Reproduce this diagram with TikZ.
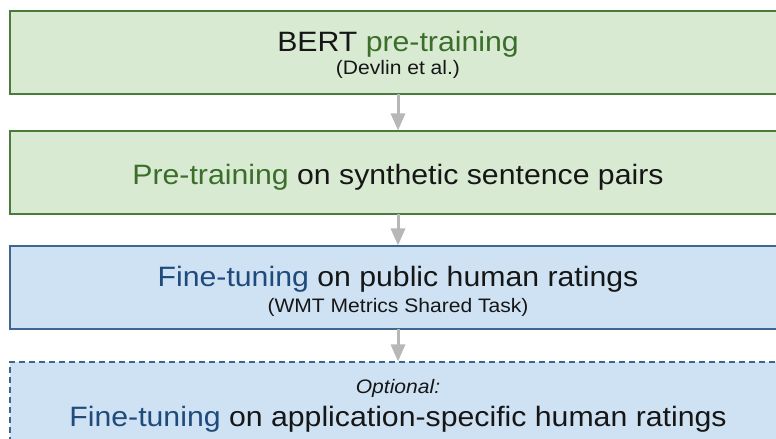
\documentclass[tikz,border=0pt]{standalone}
\usepackage{fontspec}
\setmainfont{Liberation Sans}[FakeStretch=1.08]
\usetikzlibrary{arrows.meta}

\definecolor{gfill}{HTML}{D9EAD3}
\definecolor{gline}{HTML}{4A7A3C}
\definecolor{gtext}{HTML}{3A6E2A}
\definecolor{bfill}{HTML}{CFE2F3}
\definecolor{bline}{HTML}{3D6690}
\definecolor{btext}{HTML}{1F4A7C}
\definecolor{arrowgray}{HTML}{B7B7B7}
\definecolor{ink}{HTML}{161616}

\newcommand{\bigtxt}{\fontsize{28bp}{32bp}\selectfont}
\newcommand{\smalltxt}{\fontsize{19.5bp}{23bp}\selectfont}

\tikzset{
  stage/.style={rectangle, minimum width=776bp, minimum height=83bp,
    line width=1.5bp, inner sep=0pt, outer sep=0pt},
  greenstage/.style={stage, fill=gfill, draw=gline},
  bluestage/.style={stage, fill=bfill, draw=bline},
  optstage/.style={stage, fill=bfill, draw=bline, dash pattern=on 6bp off 4bp},
  title/.style={anchor=base, inner sep=0pt, text=ink, font=\bigtxt},
  note/.style={anchor=base, inner sep=0pt, text=ink, font=\smalltxt},
  flow/.style={draw=arrowgray, line width=3bp,
    -{Triangle[width=14bp,length=17bp]}, shorten >=0.5bp}
}

\begin{document}
\begin{tikzpicture}[x=1bp, y=-1bp]
  \useasboundingbox (0,0) rectangle (776,439);
  \clip (0,0) rectangle (776,439);

  % stages
  \node[greenstage] (s1) at (398,52.75) {};
  \node[greenstage] (s2) at (398,172.5) {};
  \node[bluestage]  (s3) at (398,287.5) {};
  \node[optstage]   (s4) at (398,403.5) {};

  % stage texts
  \node[title] (t1) at (398,51.7) {BERT \textcolor{gtext}{pre-training}};
  \node[note]  (n1) at (398,74.7) {(Devlin et al.)};
  \node[title] (t2) at (398,185) {\textcolor{gtext}{Pre-training} on synthetic sentence pairs};
  \node[title] (t3) at (398,286.7) {\textcolor{btext}{Fine-tuning} on public human ratings};
  \node[note]  (n3) at (398,313) {(WMT Metrics Shared Task)};
  \node[note]  (n4) at (398,393) {\itshape Optional:};
  \node[title] (t4) at (398,426.7) {\textcolor{btext}{Fine-tuning} on application-specific human ratings};

  % connectors
  \draw[flow] (s1.south) -- (s2.north);
  \draw[flow] (s2.south) -- (s3.north);
  \draw[flow] (s3.south) -- (s4.north);
\end{tikzpicture}
\end{document}
